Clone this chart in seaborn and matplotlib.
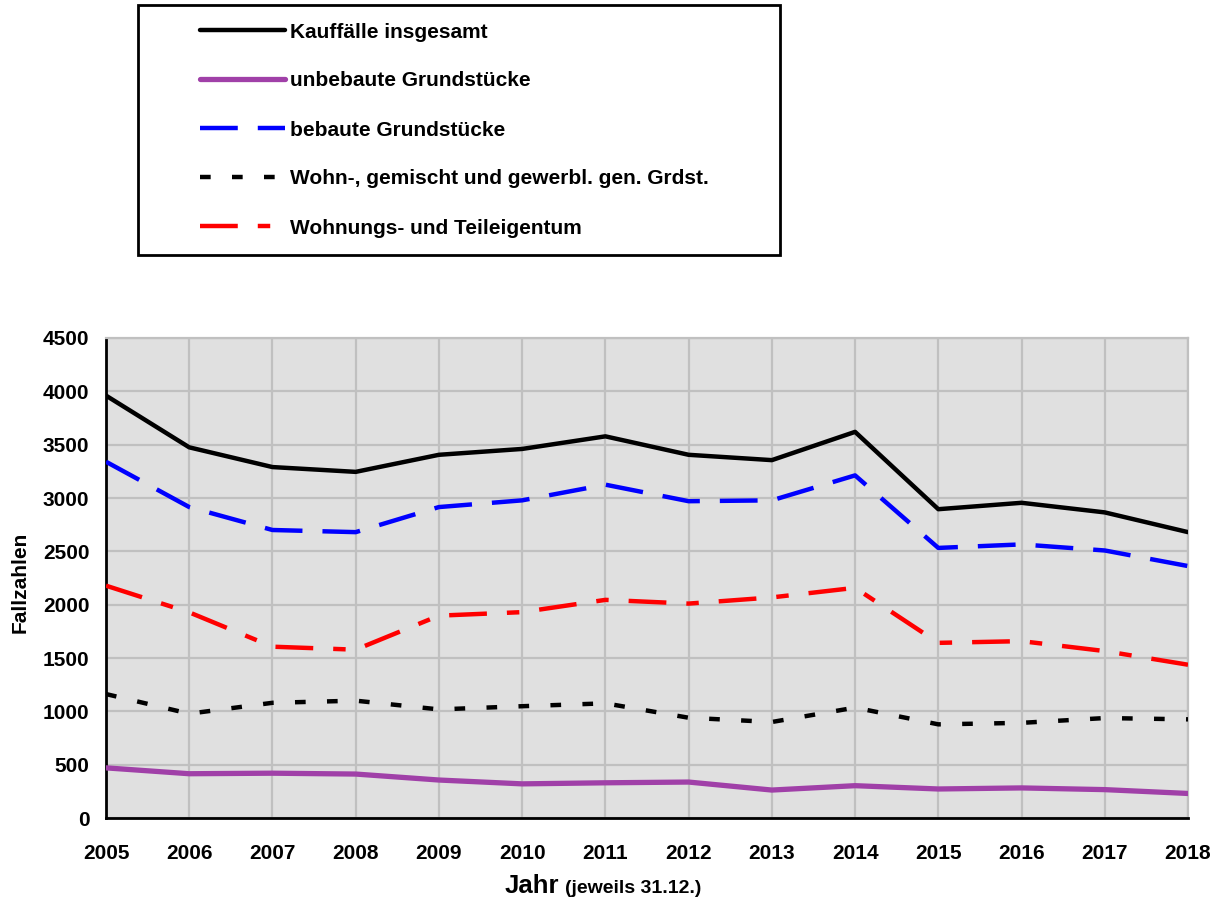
import matplotlib.pyplot as plt
import seaborn as sns
import pandas as pd
from matplotlib.lines import Line2D
from matplotlib.patches import Rectangle

# Werte
years = list(range(2005, 2019))
total = [3960, 3475, 3290, 3245, 3405, 3460, 3578, 3405, 3355, 3620, 2895, 2955, 2865, 2680]
unbebaut = [470, 415, 420, 412, 356, 320, 330, 337, 262, 303, 272, 282, 266, 230]
bebaut = [3340, 2915, 2700, 2680, 2915, 2978, 3125, 2970, 2978, 3212, 2532, 2565, 2508, 2362]
wohn_gew = [1162, 978, 1080, 1100, 1018, 1048, 1075, 940, 900, 1035, 878, 892, 937, 925]
wet = [2178, 1928, 1606, 1578, 1897, 1930, 2045, 2010, 2068, 2158, 1642, 1658, 1565, 1437]

labels = ["Kauffälle insgesamt", "unbebaute Grundstücke", "bebaute Grundstücke",
          "Wohn-, gemischt und gewerbl. gen. Grdst.", "Wohnungs- und Teileigentum"]
series = [total, unbebaut, bebaut, wohn_gew, wet]
colors = ["black", "#a040a8", "#0000ff", "black", "#ff0000"]
styles = ["-", "-", (0, (8.5, 4.5)), (0, (2.4, 4.8)), (0, (8.5, 4.5, 2.8, 4.5))]
widths = [3.2, 3.8, 3.2, 3.2, 3.2]

sns.set_style("white")
plt.rcParams['font.family'] = ['Liberation Sans', 'DejaVu Sans']
plt.rcParams['font.weight'] = 'bold'
plt.rcParams['text.color'] = 'black'
plt.rcParams['axes.labelcolor'] = 'black'
plt.rcParams['xtick.color'] = 'black'
plt.rcParams['ytick.color'] = 'black'

fig = plt.figure(figsize=(12.21, 8.99), dpi=100)
ax = fig.add_axes([106/1221, 1-818/899, (1188-106)/1221, (818-338)/899])
ax.set_facecolor("#e0e0e0")

for lab, vals, col, ls, lw in zip(labels, series, colors, styles, widths):
	df = pd.DataFrame({"Jahr": years, "Wert": vals})
	sns.lineplot(data=df, x="Jahr", y="Wert", ax=ax, color=col, linestyle=ls, lw=lw, zorder=3)

ax.set_xlim(2005, 2018)
ax.set_ylim(0, 4500)
ax.set_xticks(years)
ax.set_yticks(range(0, 4501, 500))
ax.grid(True, color="#c0c0c0", lw=1.6, zorder=0)
ax.set_axisbelow(True)
for side in ["top", "right"]:
	ax.spines[side].set_color("#c0c0c0")
	ax.spines[side].set_linewidth(1.6)
for side in ["left", "bottom"]:
	ax.spines[side].set_color("black")
	ax.spines[side].set_linewidth(2)
ax.tick_params(axis="x", direction="out", length=7, width=2, colors="black", pad=12, labelsize=15)
ax.tick_params(axis="y", direction="out", length=6, width=2, colors="black", pad=6, labelsize=15)
for t in ax.get_xticklabels() + ax.get_yticklabels():
	t.set_fontweight("bold")

ax.set_xlabel("")
ax.set_ylabel("Fallzahlen", fontsize=15, fontweight="bold", color="black")
ax.yaxis.set_label_coords(-0.071, 0.49)

fig.text(505/1221, 1-893/899, "Jahr", fontsize=18.5, fontweight="bold", ha="left", va="baseline", color="black")
fig.text(565/1221, 1-893/899, "(jeweils 31.12.)", fontsize=14, fontweight="bold", ha="left", va="baseline", color="black")

# Legende mit eigenem Rahmen
fig.patches.append(Rectangle((138/1221, 1-255/899), (780-138)/1221, (255-5)/899,
	transform=fig.transFigure, fill=False, edgecolor="black", lw=2))
handles = [Line2D([0], [0], color=c, linestyle=s, lw=w) for c, s, w in zip(colors, styles, widths)]
leg = fig.legend(handles, labels, loc="upper left", bbox_to_anchor=(200/1221, 1-22.5/899),
	frameon=False, borderpad=0, borderaxespad=0, handlelength=4.1, handletextpad=0.2,
	labelspacing=1.44, prop={"size": 15, "weight": "bold"})
for t in leg.get_texts():
	t.set_color("black")

fig.savefig("out.png", dpi=100)
